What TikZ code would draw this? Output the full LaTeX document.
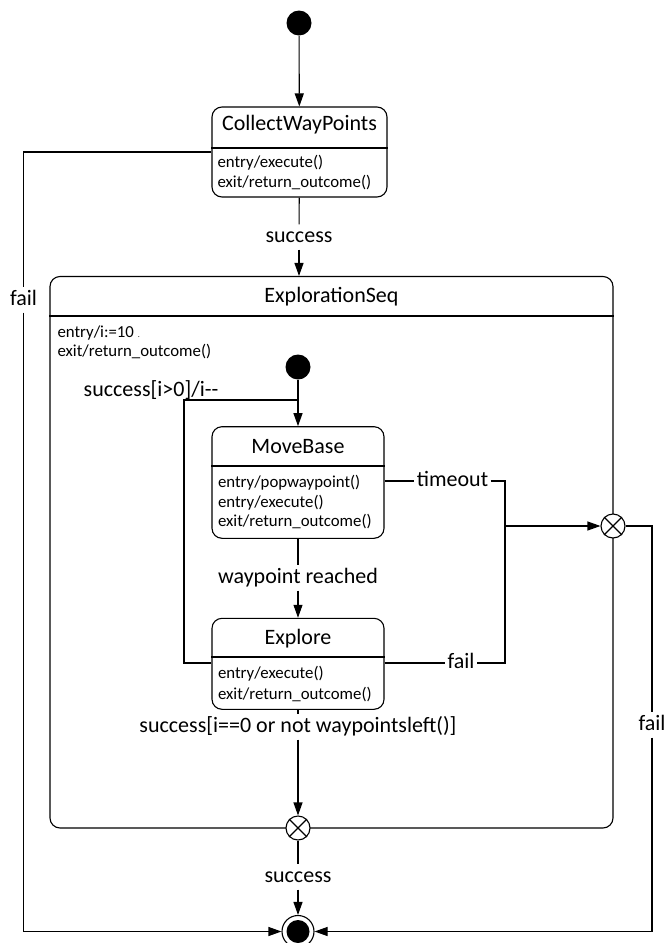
\documentclass[tikz,border=0pt]{standalone}
\usepackage{fontspec}
\setmainfont{Carlito}
\usetikzlibrary{arrows.meta,positioning}

\begin{document}
\begin{tikzpicture}[x=1pt,y=-1pt,line width=1.1pt,
			>={Triangle[length=13pt,width=9pt]},
			statebox/.style={draw,rounded corners=10pt,inner sep=0pt},
			title/.style={font=\fontsize{22}{26}\selectfont},
			body/.style={font=\fontsize{16.8}{19.5}\selectfont,align=left,anchor=west,inner sep=0pt},
			lbl/.style={font=\fontsize{22}{26}\selectfont,inner xsep=2pt,inner ysep=3pt,text height=14pt,text depth=4pt},
			dot/.style={circle,fill,minimum size=25pt,inner sep=0pt},
			junct/.style={circle,draw,fill=white,minimum size=24pt,inner sep=0pt}]
			\useasboundingbox (0,0) rectangle (667,943);
			% states
			\node [dot] (start) at (299,23) {};
			\node [statebox,minimum width=175pt,minimum height=90pt] (cwp) at (299.5,152) {};
			\node [title] (cwp-t) at (299.5,125) {CollectWayPoints};
			\draw (cwp.west |- 0,148) -- (cwp.east |- 0,148);
			\node [body] (cwp-b) at (217,172.5) {entry/execute()\\exit/return\_outcome()};

			\node [statebox,minimum width=563pt,minimum height=551.5pt] (seq) at (331.5,552.25) {};
			\node [title] (seq-t) at (331.5,297) {ExplorationSeq};
			\draw (seq.west |- 0,316) -- (seq.east |- 0,316);
			\node [body] (seq-b) at (57,342.5) {entry/i:=10 {\footnotesize .}\\exit/return\_outcome()};

			\node [dot] (init) at (298,367) {};
			\node [statebox,minimum width=172pt,minimum height=111.6pt] (move) at (298,482.5) {};
			\node [title] (move-t) at (298,447) {MoveBase};
			\draw (move.west |- 0,466) -- (move.east |- 0,466);
			\node [body] (move-b) at (217.5,502.5) {entry/popwaypoint()\\entry/execute()\\exit/return\_outcome()};

			\node [statebox,minimum width=172pt,minimum height=91pt] (expl) at (298,663.8) {};
			\node [title] (expl-t) at (298,638.5) {Explore};
			\draw (expl.west |- 0,657) -- (expl.east |- 0,657);
			\node [body,font=\fontsize{16.8}{20.5}\selectfont] (expl-b) at (217.5,684) {entry/execute()\\exit/return\_outcome()};

			\node [junct] (jright) at (613,526) {};
			\draw (jright.north west) -- (jright.south east) (jright.north east) -- (jright.south west);
			\node [junct] (jbot) at (298,828) {};
			\draw (jbot.north west) -- (jbot.south east) (jbot.north east) -- (jbot.south west);

			\node [circle,draw,minimum size=32pt,inner sep=0pt] (final) at (298,931.5) {};
			\node [dot,minimum size=23pt] (final-in) at (final) {};

			% labels
			\node [lbl] (succ1) at (299,237) {success};
			\node [lbl] (loop) at (151,391) {success[i>0]/i-{}-};
			\node [lbl] (tmo) at (452.5,481) {timeout};
			\node [lbl] (wpr) at (298,578) {waypoint reached};
			\node [lbl] (fail2) at (461,663) {fail};
			\node [lbl] (done) at (298,727) {success[i==0 or not waypointsleft()]};
			\node [lbl] (succ2) at (298,877) {success};
			\node [lbl] (lfail) at (23.5,300) {fail};
			\node [lbl] (rfail) at (652,725) {fail};

			\coordinate (lp) at (184,400);
			\coordinate (cj) at (505,663);
			\coordinate (mrg) at (505,526);

			% transitions
			\draw [->] (start) -- (cwp);
			\draw (cwp) -- (succ1);
			\draw [->] (succ1) -- (seq.north -| succ1);
			\draw [->] (init) -- (move);
			\draw (move) -- (wpr);
			\draw [->] (wpr) -- (expl);
			\draw (expl) -- (done);
			\draw [->] (done) -- (jbot);
			\draw (jbot) -- (succ2);
			\draw [->] (succ2) -- (final);
			\draw (expl.west |- cj) -| (lp) -- (init |- lp);
			\draw (move.east |- tmo) -- (tmo);
			\draw (tmo) -| (cj) -- (fail2);
			\draw (expl.east |- cj) -- (fail2);
			\draw [->] (mrg) -- (jright);
			\draw (cwp.west |- 0,152) -| (lfail);
			\draw [->] (lfail) |- (final);
			\draw (jright) -| (rfail);
			\draw [->] (rfail) |- (final);
		\end{tikzpicture}
\end{document}
